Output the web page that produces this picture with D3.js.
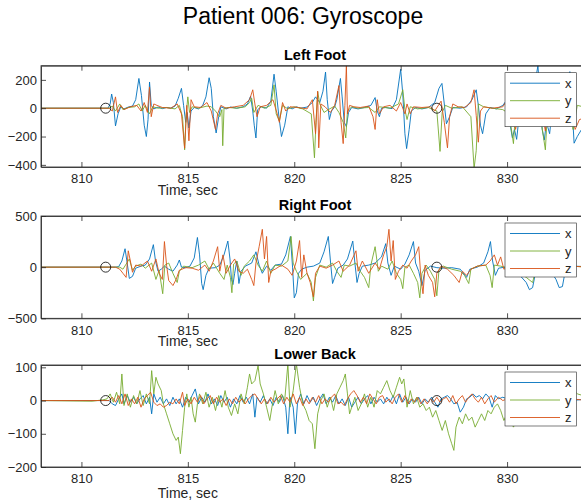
<!DOCTYPE html>
<html>
<head>
<meta charset="utf-8">
<script src="https://cdn.jsdelivr.net/npm/d3@7"></script>
<style>
body { margin: 0; background: #fff; }
svg { display: block; font-family: "Liberation Sans", Arial, Helvetica, sans-serif; }
</style>
</head>
<body>
<div id="chart"></div>
<script>
// Tidsaxel och tick-värden
var xDomain = [808.1, 833.85];
var xTicks = [810, 815, 820, 825, 830];
var eventTimes = [811.14, 826.7];
var seriesNames = ["x", "y", "z"];
var colors = ["#0072BD", "#77AC30", "#D95319"];

// Left Foot [tid, värde]
var lfX = [[808.1,0],[811.25,0],[811.35,30],[811.42,100],[811.5,40],[811.6,-125],[811.72,-40],[811.85,10],[812.0,-5],[812.2,8],[812.4,15],[812.55,60],[812.7,210],[812.82,90],[812.95,-120],[813.05,-200],[813.13,-80],[813.2,185],[813.28,20],[813.4,-5],[813.6,8],[813.8,-3],[814.0,5],[814.2,0],[814.4,15],[814.55,70],[814.7,140],[814.8,20],[814.9,-100],[814.97,-30],[815.05,-140],[815.15,-20],[815.3,5],[815.5,-5],[815.7,20],[815.85,80],[816.0,215],[816.1,140],[816.2,-60],[816.33,-175],[816.45,-60],[816.55,10],[816.8,-5],[817.0,8],[817.3,0],[817.6,10],[817.8,30],[817.95,85],[818.05,-20],[818.12,-120],[818.2,-210],[818.28,-10],[818.45,10],[818.7,0],[818.9,50],[819.05,240],[819.15,120],[819.28,-60],[819.4,-200],[819.55,-120],[819.7,10],[819.9,-5],[820.1,10],[820.3,0],[820.6,8],[820.85,40],[821.0,80],[821.2,40],[821.35,120],[821.47,255],[821.55,60],[821.65,-80],[821.75,-20],[821.9,10],[822.0,60],[822.17,210],[822.25,80],[822.35,-100],[822.45,-130],[822.55,-30],[822.7,5],[823.0,-5],[823.3,5],[823.6,20],[823.8,75],[823.9,-20],[824.0,-60],[824.1,0],[824.3,5],[824.6,-3],[824.8,60],[825.0,275],[825.1,100],[825.2,-180],[825.28,-285],[825.4,-150],[825.5,-20],[825.7,5],[826.0,-5],[826.3,5],[826.6,40],[826.8,140],[826.94,175],[827.05,30],[827.15,-110],[827.3,-60],[827.45,5],[827.8,0],[828.1,10],[828.35,60],[828.55,130],[828.65,20],[828.75,-120],[828.85,-180],[829.0,-40],[829.2,5],[829.5,-5],[829.8,20],[830.0,60],[830.15,-120],[830.25,-210],[830.35,-150],[830.45,-220],[830.55,-80],[830.7,10],[831.0,20],[831.2,80],[831.45,300],[831.55,80],[831.65,-150],[831.75,-225],[831.85,-100],[832.0,-180],[832.1,-40],[832.3,5],[832.6,30],[832.8,120],[832.95,258],[833.05,20],[833.15,-247],[833.3,-200],[833.5,-150],[833.85,-120]];
var lfY = [[808.1,0],[811.3,0],[811.45,15],[811.6,-20],[811.8,30],[811.95,-10],[812.2,5],[812.5,10],[812.7,30],[812.85,-20],[813.0,20],[813.2,-40],[813.35,10],[813.6,0],[814.0,5],[814.4,-5],[814.6,20],[814.75,-60],[814.85,-294],[814.92,-50],[815.0,80],[815.08,-30],[815.2,10],[815.5,0],[815.9,15],[816.1,10],[816.3,-20],[816.5,-60],[816.6,-10],[816.64,-265],[816.7,0],[816.9,5],[817.3,0],[817.7,10],[817.9,40],[818.0,70],[818.1,-30],[818.3,20],[818.6,0],[818.9,20],[819.05,165],[819.15,-40],[819.3,-90],[819.45,20],[819.7,-5],[820.0,10],[820.4,-5],[820.8,-40],[820.95,-350],[821.02,-100],[821.1,117],[821.2,30],[821.4,-30],[821.6,-10],[821.9,15],[822.1,-30],[822.3,-100],[822.42,-210],[822.5,-20],[822.7,10],[823.0,0],[823.5,5],[823.8,-30],[824.0,10],[824.5,0],[824.9,30],[825.1,130],[825.2,-10],[825.3,-80],[825.45,10],[825.8,-5],[826.3,5],[826.7,-20],[826.85,-305],[826.95,-30],[827.1,20],[827.4,0],[827.9,10],[828.3,-60],[828.45,-425],[828.55,-300],[828.65,30],[828.9,10],[829.3,0],[829.8,-10],[830.1,-40],[830.3,-250],[830.4,-20],[830.8,10],[831.3,30],[831.55,-40],[831.8,-294],[831.9,-20],[832.2,10],[832.6,-20],[832.9,80],[833.1,-150],[833.3,20],[833.85,0]];
var lfZ = [[808.1,0],[811.3,0],[811.45,-20],[811.6,80],[811.7,-30],[811.85,20],[812.0,-10],[812.3,10],[812.6,20],[812.8,-20],[812.95,40],[813.1,-30],[813.2,150],[813.28,-60],[813.4,30],[813.55,20],[813.8,5],[814.2,0],[814.5,30],[814.7,-40],[814.85,-282],[814.95,20],[815.05,-230],[815.15,60],[815.3,10],[815.6,5],[815.9,40],[816.1,-20],[816.3,-150],[816.4,-40],[816.55,20],[816.8,0],[817.2,10],[817.6,20],[817.9,60],[818.05,130],[818.15,30],[818.25,-60],[818.4,10],[818.7,20],[819.0,60],[819.2,-40],[819.3,-100],[819.45,40],[819.6,-20],[819.8,10],[820.2,5],[820.6,-5],[820.85,60],[821.0,-180],[821.1,120],[821.15,-280],[821.25,30],[821.45,10],[821.7,-30],[821.9,20],[822.1,160],[822.2,-100],[822.3,-250],[822.38,20],[822.45,300],[822.5,-40],[822.6,20],[822.8,10],[823.1,5],[823.5,15],[823.7,-60],[823.8,-150],[823.9,60],[824.0,-40],[824.2,10],[824.5,20],[824.8,-20],[825.0,40],[825.2,-40],[825.3,30],[825.45,-40],[825.6,10],[826.0,5],[826.4,10],[826.6,-20],[826.9,50],[827.05,-100],[827.2,-280],[827.3,-60],[827.45,30],[827.7,10],[828.0,5],[828.3,40],[828.45,130],[828.55,-50],[828.65,-240],[828.75,-20],[828.9,10],[829.3,0],[829.8,10],[830.1,80],[830.3,-40],[830.4,-150],[830.6,20],[830.9,10],[831.3,60],[831.55,150],[831.65,-40],[831.8,-160],[831.95,20],[832.3,10],[832.7,30],[832.9,120],[833.05,-60],[833.2,-150],[833.4,-80],[833.85,-60]];

// Right Foot
var rfX = [[808.1,0],[811.6,0],[811.75,5],[811.9,60],[812.05,180],[812.15,40],[812.25,-110],[812.4,-90],[812.55,-10],[812.8,10],[813.0,20],[813.2,80],[813.38,220],[813.48,60],[813.6,-40],[813.75,-20],[813.9,10],[814.1,-20],[814.3,-40],[814.5,20],[814.6,70],[814.7,0],[814.9,-5],[815.1,10],[815.3,90],[815.45,290],[815.55,120],[815.65,-160],[815.72,-220],[815.85,-80],[816.0,-10],[816.3,-5],[816.5,20],[816.7,120],[816.88,255],[816.98,80],[817.05,-120],[817.12,-170],[817.2,-60],[817.3,60],[817.4,-160],[817.5,-40],[817.7,10],[818.0,40],[818.2,150],[818.35,20],[818.5,-60],[818.7,10],[818.9,-30],[819.1,20],[819.4,30],[819.6,120],[819.82,300],[819.92,0],[820.0,-300],[820.1,-250],[820.2,-60],[820.35,-20],[820.6,0],[820.9,10],[821.2,40],[821.4,150],[821.6,300],[821.7,60],[821.8,-160],[821.9,-100],[822.05,-10],[822.3,20],[822.5,80],[822.75,255],[822.85,40],[822.95,-150],[823.05,-60],[823.2,10],[823.5,20],[823.8,40],[824.1,100],[824.3,230],[824.4,40],[824.55,-80],[824.7,10],[825.0,-20],[825.2,30],[825.4,120],[825.6,250],[825.7,40],[825.85,-40],[826.0,-180],[826.15,-30],[826.4,10],[826.7,-5],[827.0,-10],[827.4,-5],[827.8,-20],[828.1,-100],[828.25,-20],[828.6,0],[828.9,40],[829.1,150],[829.22,250],[829.32,60],[829.45,-80],[829.6,-10],[829.9,0],[830.3,-30],[830.6,-80],[830.9,-150],[831.05,-220],[831.2,-200],[831.35,-40],[831.6,0],[832.0,-20],[832.3,-120],[832.45,-200],[832.6,-190],[832.75,-20],[833.0,10],[833.85,5]];
var rfY = [[808.1,0],[811.8,0],[811.95,-20],[812.1,30],[812.25,80],[812.4,-30],[812.55,10],[812.8,30],[813.0,-10],[813.3,40],[813.5,-120],[813.65,-30],[813.82,-260],[813.92,20],[814.1,40],[814.3,-60],[814.5,-150],[814.6,-40],[814.8,10],[815.2,-5],[815.5,20],[815.8,60],[816.0,-20],[816.2,40],[816.5,-60],[816.7,-120],[816.85,20],[817.0,-100],[817.07,-250],[817.15,30],[817.3,60],[817.5,-80],[817.65,10],[817.9,60],[818.1,120],[818.3,20],[818.5,-40],[818.7,60],[818.9,-60],[819.1,20],[819.4,10],[819.7,60],[819.85,300],[819.95,40],[820.1,-40],[820.3,-120],[820.6,-60],[820.8,-150],[820.9,-330],[821.0,-100],[821.2,20],[821.5,0],[821.8,40],[822.0,-40],[822.2,-100],[822.35,20],[822.6,10],[822.9,40],[823.1,-40],[823.3,-100],[823.5,-200],[823.6,20],[823.8,200],[823.95,-40],[824.1,10],[824.4,-20],[824.6,60],[824.8,-60],[825.0,-120],[825.1,-210],[825.2,0],[825.4,20],[825.6,-60],[825.8,-150],[825.9,-300],[826.0,-60],[826.2,20],[826.4,-40],[826.6,-120],[826.7,-280],[826.8,-30],[827.0,10],[827.4,-20],[827.8,-40],[828.0,-80],[828.2,-160],[828.3,-20],[828.6,10],[829.0,20],[829.2,-80],[829.3,-200],[829.4,20],[829.7,10],[830.2,-20],[830.6,-60],[830.9,-100],[831.2,-150],[831.35,-20],[831.8,0],[832.2,-30],[832.6,-40],[833.0,10],[833.85,0]];
var rfZ = [[808.1,0],[811.6,0],[811.8,-20],[811.95,-60],[812.1,-100],[812.2,160],[812.3,60],[812.4,-50],[812.55,20],[812.8,10],[813.1,60],[813.3,-40],[813.5,80],[813.65,-60],[813.8,-120],[813.9,250],[814.0,20],[814.1,-130],[814.3,-180],[814.45,-120],[814.6,-30],[814.9,-5],[815.2,-10],[815.5,-30],[815.8,20],[816.0,-40],[816.2,60],[816.4,200],[816.5,-40],[816.65,120],[816.8,-60],[817.0,20],[817.2,80],[817.4,-40],[817.6,-60],[817.8,-20],[818.0,-120],[818.1,-180],[818.2,40],[818.35,200],[818.5,370],[818.6,80],[818.7,300],[818.8,-150],[818.9,-40],[819.1,-20],[819.4,20],[819.7,-20],[819.9,-80],[820.1,60],[820.25,260],[820.35,-100],[820.45,120],[820.6,-60],[820.75,-150],[820.9,-290],[821.0,-60],[821.2,10],[821.5,-10],[821.8,20],[822.1,60],[822.3,-40],[822.6,20],[822.9,160],[823.0,-40],[823.2,60],[823.5,-60],[823.8,40],[824.0,-20],[824.2,120],[824.35,200],[824.45,370],[824.55,60],[824.65,260],[824.75,-120],[824.9,-40],[825.1,20],[825.3,-10],[825.5,60],[825.7,120],[825.85,200],[825.95,-100],[826.05,-260],[826.15,20],[826.3,-80],[826.5,-150],[826.6,-290],[826.7,-60],[826.9,10],[827.2,-20],[827.5,-80],[827.75,-150],[827.9,-40],[828.1,-80],[828.3,-20],[828.6,10],[829.0,20],[829.2,60],[829.4,120],[829.55,20],[829.7,100],[829.85,-20],[830.1,10],[830.6,0],[831.0,20],[831.5,-10],[832.0,10],[832.6,-20],[833.0,10],[833.85,0]];

// Lower Back
var lbX = [[808.1,0],[811.3,0],[811.45,-10],[811.6,-15],[811.75,5],[811.9,20],[812.0,-10],[812.15,15],[812.3,-5],[812.45,10],[812.6,-10],[812.75,5],[812.9,15],[813.05,-10],[813.2,10],[813.3,-40],[813.4,20],[813.55,-5],[813.7,10],[813.85,-10],[814.0,5],[814.15,-15],[814.3,10],[814.45,-10],[814.6,5],[814.75,-20],[814.9,10],[815.05,-5],[815.2,15],[815.35,35],[815.5,-10],[815.65,10],[815.8,-5],[815.95,20],[816.1,-10],[816.25,5],[816.4,-15],[816.55,15],[816.7,-5],[816.85,10],[817.0,-20],[817.15,5],[817.3,-10],[817.45,15],[817.6,-5],[817.75,10],[817.9,-10],[818.05,20],[818.15,-50],[818.25,10],[818.4,-5],[818.55,15],[818.7,-10],[818.85,5],[819.0,-15],[819.15,10],[819.3,-5],[819.45,15],[819.6,-20],[819.7,-100],[819.8,10],[819.95,-20],[820.05,-100],[820.15,-10],[820.3,20],[820.45,-10],[820.6,15],[820.75,-5],[820.9,10],[821.05,-15],[821.2,5],[821.35,20],[821.5,-10],[821.65,10],[821.8,-5],[821.95,15],[822.1,-10],[822.25,5],[822.4,-15],[822.55,10],[822.7,-20],[822.85,-5],[823.0,10],[823.15,-10],[823.3,5],[823.45,15],[823.6,-10],[823.75,10],[823.9,-5],[824.05,5],[824.2,-10],[824.35,10],[824.5,-5],[824.65,15],[824.8,-10],[824.95,20],[825.1,-5],[825.25,10],[825.4,-10],[825.55,5],[825.7,-5],[825.85,10],[826.0,-10],[826.15,5],[826.3,-5],[826.45,10],[826.6,-5],[826.75,-20],[826.9,5],[827.05,10],[827.2,15],[827.35,5],[827.5,-10],[827.65,-5],[827.8,-35],[827.95,-20],[828.1,5],[828.25,10],[828.4,20],[828.55,10],[828.7,15],[828.85,5],[829.0,20],[829.15,10],[829.3,-20],[829.45,15],[829.6,5],[829.8,10],[830.2,0],[830.6,10],[831.0,-5],[831.5,5],[832.0,-5],[832.5,5],[833.0,0],[833.85,5]];
var lbY = [[808.1,0],[810.5,-2],[811.0,2],[811.2,5],[811.35,20],[811.5,-5],[811.65,25],[811.8,-10],[811.9,80],[812.0,-15],[812.15,20],[812.3,-20],[812.45,15],[812.6,-10],[812.75,30],[812.9,-15],[813.05,20],[813.2,-10],[813.3,90],[813.4,20],[813.5,70],[813.6,50],[813.75,30],[813.85,-10],[814.0,-40],[814.15,-70],[814.3,-100],[814.45,-120],[814.55,-110],[814.65,-160],[814.75,-90],[814.85,-20],[814.95,20],[815.05,-20],[815.15,10],[815.25,-40],[815.35,-65],[815.45,-10],[815.55,20],[815.7,-10],[815.85,25],[816.0,-20],[816.15,10],[816.3,-30],[816.45,15],[816.6,-20],[816.75,30],[816.9,-20],[817.05,-45],[817.2,-10],[817.35,-40],[817.5,20],[817.65,-10],[817.8,40],[817.9,80],[818.0,50],[818.15,60],[818.3,105],[818.4,50],[818.55,20],[818.7,-20],[818.85,-60],[818.95,-20],[819.1,30],[819.25,-10],[819.4,20],[819.55,0],[819.7,110],[819.8,-20],[819.95,30],[820.1,110],[820.25,40],[820.4,-10],[820.55,-30],[820.7,-60],[820.85,-70],[820.97,-145],[821.1,-40],[821.25,0],[821.4,20],[821.55,-20],[821.7,10],[821.85,-30],[822.0,20],[822.15,40],[822.3,60],[822.4,80],[822.5,20],[822.6,-40],[822.7,-20],[822.85,10],[823.0,-30],[823.15,-10],[823.3,20],[823.45,-20],[823.6,10],[823.75,-20],[823.9,30],[824.05,20],[824.2,40],[824.35,60],[824.5,30],[824.65,10],[824.8,40],[824.95,70],[825.05,50],[825.15,65],[825.3,-20],[825.45,30],[825.6,-10],[825.75,10],[825.9,-20],[826.05,-10],[826.2,-30],[826.35,-20],[826.5,-50],[826.65,-30],[826.8,-60],[826.95,-90],[827.1,-60],[827.25,-100],[827.4,-130],[827.5,-150],[827.6,-80],[827.75,-50],[827.9,-70],[828.05,-40],[828.2,-60],[828.35,-50],[828.5,-80],[828.65,-60],[828.8,-40],[828.95,-60],[829.1,-30],[829.25,-40],[829.4,-20],[829.55,-10],[829.7,-30],[829.85,-60],[830.0,-40],[830.3,-80],[830.6,-40],[831.0,-20],[831.4,10],[831.8,30],[832.2,10],[832.6,30],[833.0,40],[833.3,20],[833.85,10]];
var lbZ = [[808.1,0],[811.3,0],[811.45,10],[811.6,-5],[811.75,15],[811.9,-10],[812.05,20],[812.2,-15],[812.35,5],[812.5,-10],[812.65,10],[812.8,-20],[812.95,5],[813.1,15],[813.25,25],[813.4,-5],[813.55,-15],[813.7,-10],[813.85,-20],[814.0,-15],[814.15,-5],[814.3,-10],[814.45,5],[814.6,-10],[814.75,25],[814.85,-15],[815.0,5],[815.15,-10],[815.3,10],[815.45,-5],[815.6,15],[815.75,-10],[815.9,5],[816.05,15],[816.2,-10],[816.35,10],[816.5,-5],[816.65,5],[816.8,-15],[816.95,5],[817.1,-10],[817.25,10],[817.4,-5],[817.55,5],[817.7,-10],[817.85,5],[818.0,15],[818.15,20],[818.3,5],[818.45,-10],[818.6,5],[818.75,-10],[818.9,10],[819.05,-5],[819.2,5],[819.35,15],[819.5,-10],[819.65,10],[819.8,-5],[819.95,20],[820.1,-10],[820.25,10],[820.4,-15],[820.55,5],[820.7,-10],[820.85,10],[821.0,-5],[821.15,15],[821.3,-10],[821.45,5],[821.6,-5],[821.75,10],[821.9,20],[822.05,-10],[822.2,-5],[822.35,-15],[822.5,5],[822.65,20],[822.8,30],[822.95,15],[823.1,-5],[823.25,10],[823.4,-10],[823.55,20],[823.7,5],[823.85,-10],[824.0,10],[824.15,15],[824.3,-5],[824.45,5],[824.6,-10],[824.75,10],[824.9,20],[825.05,-5],[825.2,15],[825.35,-10],[825.5,5],[825.65,-5],[825.8,10],[825.95,-10],[826.1,5],[826.25,-10],[826.4,5],[826.55,-5],[826.7,10],[826.85,-5],[827.0,5],[827.15,10],[827.3,-5],[827.45,15],[827.6,-10],[827.75,5],[827.9,15],[828.05,-5],[828.2,10],[828.35,20],[828.5,5],[828.65,-5],[828.8,10],[828.95,-10],[829.1,5],[829.25,15],[829.4,-5],[829.6,10],[829.8,0],[830.2,10],[830.6,-5],[831.0,5],[831.5,-5],[832.0,10],[832.5,-5],[833.0,5],[833.85,0]];

var panelTitles = ["Left Foot", "Right Foot", "Lower Back"];
var panelDomains = [[-415, 300], [-500, 500], [-200, 107]];
var panelYTicks = [[-400, -200, 0, 200], [-500, 0, 500], [-200, -100, 0, 100]];
var panelSeries = [[lfX, lfY, lfZ], [rfX, rfY, rfZ], [lbX, lbY, lbZ]];

var width = 581, height = 502;
var left = 41, right = 589;
var boxes = [[65.7, 167], [216, 318.3], [365, 467]];
var xlabelY = [195, 346, 498];
var axisColor = "#262626";

var svg = d3.select("#chart").append("svg")
    .attr("width", width).attr("height", height);

// Huvudtitel
svg.append("text")
    .attr("x", 303).attr("y", 24)
    .attr("text-anchor", "middle")
    .attr("font-size", "23px")
    .attr("fill", "#000")
    .text("Patient 006: Gyroscope");

var x = d3.scaleLinear().domain(xDomain).range([left, right]);

function drawPanel(i) {
    var top = boxes[i][0], bottom = boxes[i][1];
    var y = d3.scaleLinear().domain(panelDomains[i]).range([bottom, top]);
    var g = svg.append("g");

    g.append("clipPath").attr("id", "clip" + i)
        .append("rect")
        .attr("x", left).attr("y", top)
        .attr("width", right - left).attr("height", bottom - top);

    // Linjer x, y, z
    var line = d3.line().x(d => x(d[0])).y(d => y(d[1]));
    var lines = g.append("g").attr("clip-path", "url(#clip" + i + ")");
    panelSeries[i].forEach(function(s, k) {
        lines.append("path")
            .attr("d", line(s))
            .attr("fill", "none")
            .attr("stroke", colors[k])
            .attr("stroke-width", 0.9)
            .attr("stroke-linejoin", "round");
    });

    // Händelsemarkörer
    lines.selectAll("circle")
        .data(eventTimes)
        .enter().append("circle")
            .attr("cx", d => x(d))
            .attr("cy", y(0))
            .attr("r", 5)
            .attr("fill", "none")
            .attr("stroke", "#000")
            .attr("stroke-width", 0.8);

    // Axlar
    var xb = g.append("g").attr("transform", "translate(0," + bottom + ")")
        .call(d3.axisBottom(x).tickValues(xTicks).tickSizeInner(-5).tickSizeOuter(0).tickPadding(7));
    var xt = g.append("g").attr("transform", "translate(0," + top + ")")
        .call(d3.axisTop(x).tickValues(xTicks).tickSizeInner(-5).tickSizeOuter(0).tickFormat(""));
    var yl = g.append("g").attr("transform", "translate(" + left + ",0)")
        .call(d3.axisLeft(y).tickValues(panelYTicks[i]).tickSizeInner(-5).tickSizeOuter(0).tickPadding(4));
    [xb, xt, yl].forEach(function(a) {
        a.selectAll("path,line").attr("stroke", axisColor).attr("stroke-width", 0.8);
        a.selectAll("text").attr("fill", axisColor).attr("font-size", "13px")
            .attr("font-family", "Liberation Sans, Arial, sans-serif");
    });
    g.append("rect")
        .attr("x", left).attr("y", top)
        .attr("width", right - left).attr("height", bottom - top)
        .attr("fill", "none").attr("stroke", axisColor).attr("stroke-width", 0.8);

    // Titel och xlabel
    g.append("text")
        .attr("x", (left + right) / 2).attr("y", top - 6)
        .attr("text-anchor", "middle")
        .attr("font-size", "14.5px").attr("font-weight", "bold")
        .attr("fill", "#000")
        .text(panelTitles[i]);
    g.append("text")
        .attr("x", x(815)).attr("y", xlabelY[i])
        .attr("text-anchor", "middle")
        .attr("font-size", "14px")
        .attr("fill", axisColor)
        .text("Time, sec");

    // Legend
    var lg = g.append("g").attr("transform", "translate(505," + (top + 7) + ")");
    lg.append("rect")
        .attr("width", 71.5).attr("height", 54)
        .attr("fill", "#fff").attr("stroke", axisColor).attr("stroke-width", 0.6);
    seriesNames.forEach(function(n, k) {
        var ry = 10.5 + k * 17.5;
        lg.append("line")
            .attr("x1", 5).attr("x2", 55).attr("y1", ry).attr("y2", ry)
            .attr("stroke", colors[k]).attr("stroke-width", 0.9);
        lg.append("text")
            .attr("x", 60).attr("y", ry + 4.5)
            .attr("font-size", "13px").attr("fill", axisColor)
            .text(n);
    });
}

for (var i = 0; i < 3; i++) drawPanel(i);
</script>
</body>
</html>
